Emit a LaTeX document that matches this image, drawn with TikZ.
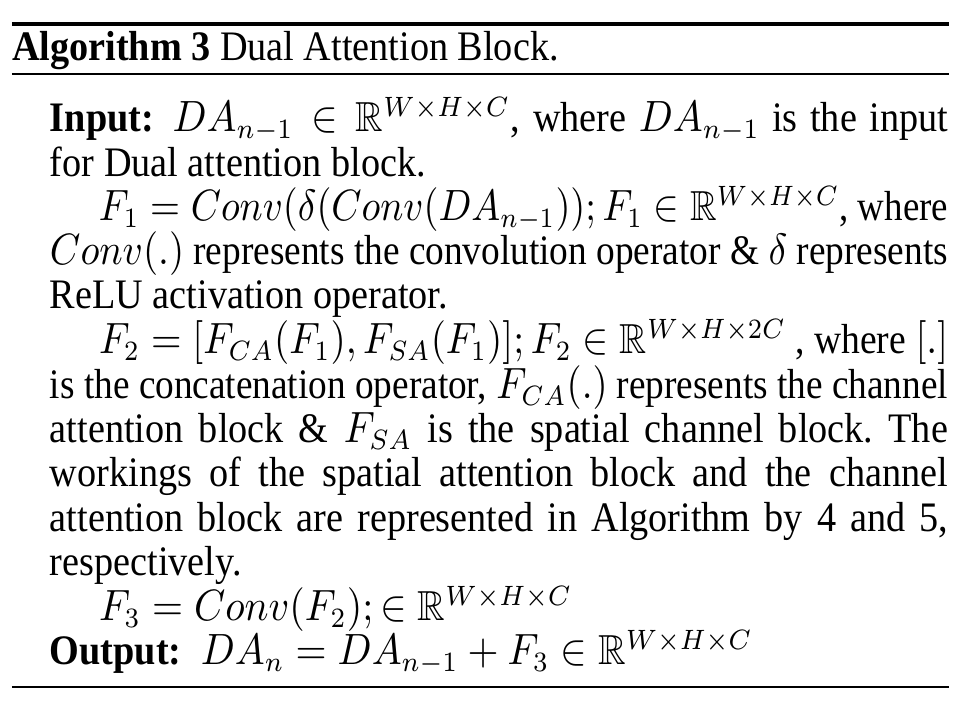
\documentclass[tikz,border=0pt]{standalone}
\usepackage{amssymb}
\usepackage{graphicx}
\usepackage{fontspec}
\setmainfont{Liberation Serif}
\newlength\natw
\newcommand{\jline}[2]{\scalebox{0.91}[1]{\settowidth{\natw}{#2}\ifdim\natw>#1\relax\resizebox{#1}{\height}{#2}\else\makebox[#1][s]{#2}\fi}}
\newcommand{\nline}[1]{\scalebox{0.91}[1]{#1}}
\begin{document}
\begin{tikzpicture}[x=0.25pt,y=-0.25pt,
  txt/.style={anchor=base west,inner sep=0pt,outer sep=0pt,font=\fontsize{10.5}{12.6}\selectfont},
  thickrule/.style={line width=0.8pt},
  thinrule/.style={line width=0.45pt}]
\useasboundingbox[fill=white] (0,0) rectangle (979,712);
\draw[thickrule] (12,24) -- (949,24);
\draw[thinrule] (12,74) -- (949,74);
\draw[thinrule] (12,687) -- (949,687);
\node[txt] (title) at (12,61) {\nline{\textbf{Algorithm 3} Dual Attention Block.}};
\node[txt] (l1) at (50,132) {\jline{246.7pt}{\textbf{Input:} $DA_{n-1} \in \mathbb{R}^{W\times H\times C}$, where $DA_{n-1}$ is the input}};
\node[txt] (l2) at (50,177) {\nline{for Dual attention block.}};
\node[txt] (l3) at (99,221) {\jline{233.3pt}{$F_1 = Conv(\delta(Conv(DA_{n-1}));F_1 \in \mathbb{R}^{W\times H\times C}$, where}};
\node[txt] (l4) at (50,265) {\jline{246.7pt}{$Conv(.)$ represents the convolution operator \& $\delta$ represents}};
\node[txt] (l5) at (50,309) {\nline{ReLU activation operator.}};
\node[txt] (l6) at (99,354) {\jline{233.3pt}{$F_2 = [F_{CA}(F_1), F_{SA}(F_1)];F_2 \in \mathbb{R}^{W\times H\times 2C}$ , where $[.]$}};
\node[txt] (l7) at (50,399) {\jline{246.7pt}{is the concatenation operator, $F_{CA}(.)$ represents the channel}};
\node[txt] (l8) at (50,443) {\jline{246.7pt}{attention block \& $F_{SA}$ is the spatial channel block.\ The}};
\node[txt] (l9) at (50,487) {\jline{246.7pt}{workings of the spatial attention block and the channel}};
\node[txt] (l10) at (50,532) {\jline{246.7pt}{attention block are represented in Algorithm by 4 and 5,}};
\node[txt] (l11) at (50,576) {\nline{respectively.}};
\node[txt] (l12) at (99,621) {\nline{$F_3 = Conv(F_2); \in \mathbb{R}^{W\times H\times C}$}};
\node[txt] (l13) at (50,665) {\nline{\textbf{Output:}\ \ $DA_n = DA_{n-1} + F_3 \in \mathbb{R}^{W\times H\times C}$}};
\end{tikzpicture}
\end{document}
